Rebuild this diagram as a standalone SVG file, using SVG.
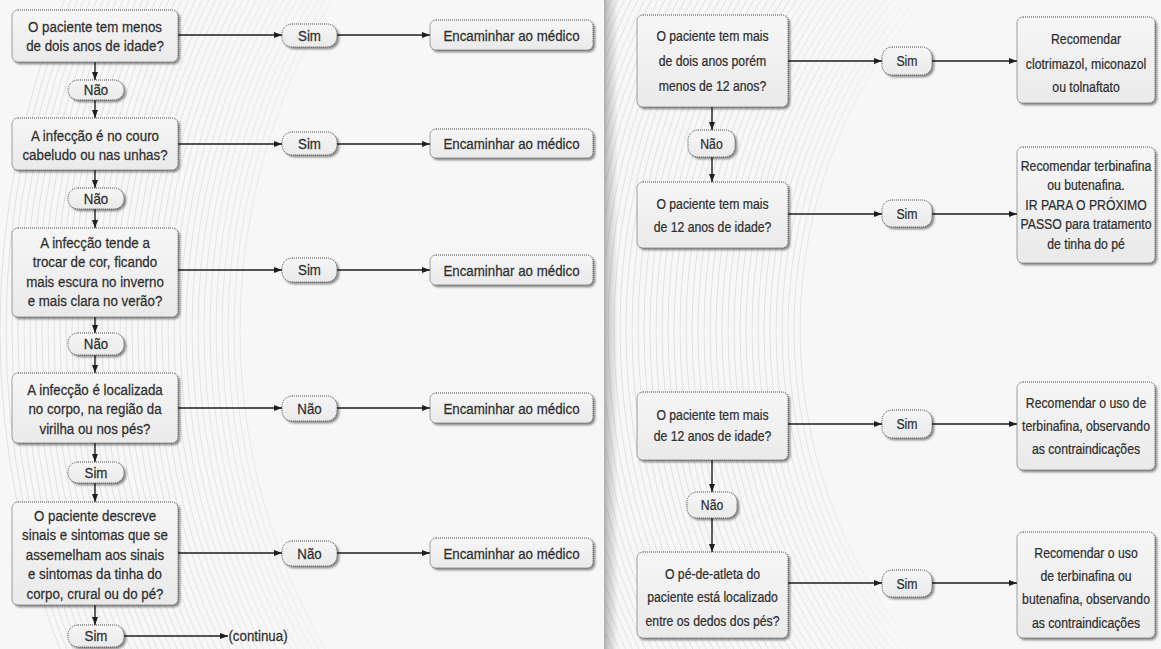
<svg xmlns="http://www.w3.org/2000/svg" width="1161" height="649" viewBox="0 0 1161 649">
  <defs>
    <style>
      .box { fill: url(#boxFill); stroke: #4a4a4a; stroke-width: 1; stroke-dasharray: 1 1; filter: url(#shadow); }
      .t { font-family: "Liberation Sans", "DejaVu Sans", sans-serif; fill: #2e2e2e; stroke: #2e2e2e; stroke-width: 0.25; text-anchor: middle; transform-box: fill-box; transform-origin: 50% 50%; }
      .l { font-size: 15.5px; transform: scaleX(0.86); }
      .r { font-size: 15.5px; transform: scaleX(0.79); }
      .conn { stroke: #1e1e1e; stroke-width: 1.4; fill: none; marker-end: url(#arrow); }
      .rings circle { fill: none; stroke: #e1e1e1; stroke-width: 1; }
    </style>
    <linearGradient id="boxFill" x1="0" y1="0" x2="0" y2="1">
      <stop offset="0" stop-color="#f6f6f6"/>
      <stop offset="1" stop-color="#eaeaea"/>
    </linearGradient>
    <filter id="shadow" x="-10%" y="-10%" width="130%" height="140%">
      <feGaussianBlur in="SourceAlpha" stdDeviation="1.3"/>
      <feOffset dx="2" dy="2" result="b"/>
      <feComponentTransfer><feFuncA type="linear" slope="0.45"/></feComponentTransfer>
      <feMerge><feMergeNode/><feMergeNode in="SourceGraphic"/></feMerge>
    </filter>
    <marker id="arrow" viewBox="0 0 8 6" refX="8" refY="3" markerWidth="8" markerHeight="6" markerUnits="userSpaceOnUse" orient="auto">
      <path d="M0,0 L8,3 L0,6 z" fill="#1e1e1e"/>
    </marker>
    <linearGradient id="fadeL" gradientUnits="userSpaceOnUse" x1="0" y1="0" x2="430" y2="0">
      <stop offset="0" stop-color="#fff"/>
      <stop offset="0.4" stop-color="#fff"/>
      <stop offset="1" stop-color="#000"/>
    </linearGradient>
    <linearGradient id="fadeR" gradientUnits="userSpaceOnUse" x1="606" y1="0" x2="950" y2="0">
      <stop offset="0" stop-color="#fff"/>
      <stop offset="0.5" stop-color="#fff"/>
      <stop offset="1" stop-color="#000"/>
    </linearGradient>
    <mask id="maskL"><rect x="0" y="0" width="604" height="649" fill="url(#fadeL)"/></mask>
    <mask id="maskR"><rect x="606" y="0" width="555" height="649" fill="url(#fadeR)"/></mask>
    <linearGradient id="edge" x1="0" y1="0" x2="1" y2="0">
      <stop offset="0" stop-color="#000" stop-opacity="0.22"/>
      <stop offset="1" stop-color="#000" stop-opacity="0"/>
    </linearGradient>
  </defs>

  <!-- background -->
  <rect x="0" y="0" width="1161" height="649" fill="#f7f7f7"/>
  <g class="rings" mask="url(#maskL)">
    <g transform="translate(880 330)">
      <circle r="640"/><circle r="646"/><circle r="652"/><circle r="658"/><circle r="664"/><circle r="670"/><circle r="676"/><circle r="682"/><circle r="688"/><circle r="694"/>
      <circle r="700"/><circle r="706"/><circle r="712"/><circle r="718"/><circle r="724"/><circle r="730"/><circle r="736"/><circle r="742"/><circle r="748"/><circle r="754"/>
      <circle r="760"/><circle r="766"/><circle r="772"/><circle r="778"/><circle r="784"/><circle r="790"/><circle r="796"/><circle r="802"/><circle r="808"/><circle r="814"/>
      <circle r="820"/><circle r="826"/><circle r="832"/><circle r="838"/><circle r="844"/><circle r="850"/><circle r="856"/><circle r="862"/><circle r="868"/><circle r="874"/><circle r="880"/>
    </g>
  </g>
  <g class="rings" mask="url(#maskR)">
    <g transform="translate(1300 330)">
      <circle r="500"/><circle r="506"/><circle r="512"/><circle r="518"/><circle r="524"/><circle r="530"/><circle r="536"/><circle r="542"/><circle r="548"/><circle r="554"/>
      <circle r="560"/><circle r="566"/><circle r="572"/><circle r="578"/><circle r="584"/><circle r="590"/><circle r="596"/><circle r="602"/><circle r="608"/><circle r="614"/>
      <circle r="620"/><circle r="626"/><circle r="632"/><circle r="638"/><circle r="644"/><circle r="650"/><circle r="656"/><circle r="662"/><circle r="668"/><circle r="674"/>
      <circle r="680"/><circle r="686"/><circle r="692"/><circle r="698"/><circle r="704"/><circle r="710"/><circle r="716"/><circle r="722"/><circle r="728"/><circle r="734"/>
      <circle r="740"/><circle r="746"/><circle r="752"/><circle r="758"/><circle r="764"/>
    </g>
  </g>

  <!-- panel divider -->
  <g id="divider">
    <rect x="606" y="0" width="12" height="649" fill="url(#edge)"/>
    <line x1="605" y1="0" x2="605" y2="649" stroke="#9c9c9c" stroke-width="1.5"/>
  </g>

  <!-- connectors -->
  <g id="connectors">
    <!-- left column, vertical -->
    <line class="conn" x1="95" y1="62" x2="95" y2="80"/>
    <line class="conn" x1="95" y1="100" x2="95" y2="118"/>
    <line class="conn" x1="95" y1="170" x2="95" y2="188"/>
    <line class="conn" x1="95" y1="209" x2="95" y2="228"/>
    <line class="conn" x1="95" y1="317" x2="95" y2="333"/>
    <line class="conn" x1="95" y1="355" x2="95" y2="373"/>
    <line class="conn" x1="95" y1="443" x2="95" y2="462"/>
    <line class="conn" x1="95" y1="483" x2="95" y2="502"/>
    <line class="conn" x1="95" y1="605" x2="95" y2="625"/>
    <!-- left column, horizontal -->
    <line class="conn" x1="178" y1="35" x2="282" y2="35"/>
    <line class="conn" x1="337" y1="35" x2="430" y2="35"/>
    <line class="conn" x1="178" y1="144" x2="282" y2="144"/>
    <line class="conn" x1="337" y1="144" x2="430" y2="144"/>
    <line class="conn" x1="178" y1="270" x2="282" y2="270"/>
    <line class="conn" x1="337" y1="270" x2="430" y2="270"/>
    <line class="conn" x1="178" y1="408" x2="282" y2="408"/>
    <line class="conn" x1="337" y1="408" x2="430" y2="408"/>
    <line class="conn" x1="178" y1="553" x2="282" y2="553"/>
    <line class="conn" x1="337" y1="553" x2="430" y2="553"/>
    <line class="conn" x1="124" y1="636" x2="228" y2="636"/>
    <!-- right column, vertical -->
    <line class="conn" x1="712" y1="107" x2="712" y2="130"/>
    <line class="conn" x1="712" y1="157" x2="712" y2="182"/>
    <line class="conn" x1="712" y1="460" x2="712" y2="492"/>
    <line class="conn" x1="712" y1="518" x2="712" y2="552"/>
    <!-- right column, horizontal -->
    <line class="conn" x1="788" y1="61" x2="882" y2="61"/>
    <line class="conn" x1="932" y1="61" x2="1017" y2="61"/>
    <line class="conn" x1="788" y1="214" x2="882" y2="214"/>
    <line class="conn" x1="932" y1="214" x2="1017" y2="214"/>
    <line class="conn" x1="788" y1="424" x2="882" y2="424"/>
    <line class="conn" x1="932" y1="424" x2="1017" y2="424"/>
    <line class="conn" x1="788" y1="583" x2="882" y2="583"/>
    <line class="conn" x1="932" y1="583" x2="1017" y2="583"/>
  </g>

  <!-- left column: questions -->
  <g id="q1">
    <rect class="box" x="12" y="10" width="166" height="52" rx="6"/>
    <text class="t l" x="95" y="32">O paciente tem menos</text>
    <text class="t l" x="95" y="51">de dois anos de idade?</text>
  </g>
  <g id="q2">
    <rect class="box" x="12" y="118" width="166" height="52" rx="6"/>
    <text class="t l" x="95" y="141">A infecção é no couro</text>
    <text class="t l" x="95" y="160">cabeludo ou nas unhas?</text>
  </g>
  <g id="q3">
    <rect class="box" x="12" y="228" width="166" height="89" rx="6"/>
    <text class="t l" x="95" y="248">A infecção tende a</text>
    <text class="t l" x="95" y="267.5">trocar de cor, ficando</text>
    <text class="t l" x="95" y="287">mais escura no inverno</text>
    <text class="t l" x="95" y="306.5">e mais clara no verão?</text>
  </g>
  <g id="q4">
    <rect class="box" x="12" y="373" width="166" height="70" rx="6"/>
    <text class="t l" x="95" y="395">A infecção é localizada</text>
    <text class="t l" x="95" y="414.5">no corpo, na região da</text>
    <text class="t l" x="95" y="434">virilha ou nos pés?</text>
  </g>
  <g id="q5">
    <rect class="box" x="12" y="502" width="166" height="103" rx="6"/>
    <text class="t l" x="95" y="521">O paciente descreve</text>
    <text class="t l" x="95" y="540.5">sinais e sintomas que se</text>
    <text class="t l" x="95" y="560">assemelham aos sinais</text>
    <text class="t l" x="95" y="579.5">e sintomas da tinha do</text>
    <text class="t l" x="95" y="599">corpo, crural ou do pé?</text>
  </g>

  <!-- left column: answers on the main path -->
  <g id="a1"><rect class="box" x="68" y="80" width="56" height="20" rx="10"/><text class="t l" x="96" y="95.5">Não</text></g>
  <g id="a2"><rect class="box" x="68" y="188" width="56" height="21" rx="10"/><text class="t l" x="96" y="204">Não</text></g>
  <g id="a3"><rect class="box" x="68" y="333" width="56" height="22" rx="10"/><text class="t l" x="96" y="349.5">Não</text></g>
  <g id="a4"><rect class="box" x="68" y="462" width="56" height="21" rx="10"/><text class="t l" x="96" y="478">Sim</text></g>
  <g id="a5"><rect class="box" x="68" y="625" width="56" height="22" rx="10"/><text class="t l" x="96" y="641.5">Sim</text></g>
  <g id="continua"><text class="t l" x="258" y="641.5">(continua)</text></g>

  <!-- left column: side answers -->
  <g id="s1"><rect class="box" x="282" y="24" width="55" height="23" rx="10"/><text class="t l" x="309.5" y="41">Sim</text></g>
  <g id="s2"><rect class="box" x="282" y="132" width="55" height="23" rx="10"/><text class="t l" x="309.5" y="149">Sim</text></g>
  <g id="s3"><rect class="box" x="282" y="258" width="55" height="24" rx="10"/><text class="t l" x="309.5" y="275.5">Sim</text></g>
  <g id="s4"><rect class="box" x="282" y="396" width="55" height="25" rx="10"/><text class="t l" x="309.5" y="414">Não</text></g>
  <g id="s5"><rect class="box" x="282" y="541" width="55" height="25" rx="10"/><text class="t l" x="309.5" y="559">Não</text></g>

  <!-- left column: referrals -->
  <g id="e1"><rect class="box" x="430" y="20" width="163" height="30" rx="6"/><text class="t l" x="511.5" y="41">Encaminhar ao médico</text></g>
  <g id="e2"><rect class="box" x="430" y="129" width="163" height="29" rx="6"/><text class="t l" x="511.5" y="149.5">Encaminhar ao médico</text></g>
  <g id="e3"><rect class="box" x="430" y="255" width="163" height="30" rx="6"/><text class="t l" x="511.5" y="276">Encaminhar ao médico</text></g>
  <g id="e4"><rect class="box" x="430" y="393" width="163" height="30" rx="6"/><text class="t l" x="511.5" y="414">Encaminhar ao médico</text></g>
  <g id="e5"><rect class="box" x="430" y="538" width="163" height="30" rx="6"/><text class="t l" x="511.5" y="559">Encaminhar ao médico</text></g>

  <!-- right column: questions -->
  <g id="rq1">
    <rect class="box" x="637" y="15" width="151" height="92" rx="6"/>
    <text class="t r" x="712.5" y="41">O paciente tem mais</text>
    <text class="t r" x="712.5" y="66">de dois anos porém</text>
    <text class="t r" x="712.5" y="91">menos de 12 anos?</text>
  </g>
  <g id="rq2">
    <rect class="box" x="637" y="182" width="151" height="66" rx="6"/>
    <text class="t r" x="712.5" y="209">O paciente tem mais</text>
    <text class="t r" x="712.5" y="232">de 12 anos de idade?</text>
  </g>
  <g id="rq3">
    <rect class="box" x="637" y="392" width="151" height="68" rx="6"/>
    <text class="t r" x="712.5" y="420">O paciente tem mais</text>
    <text class="t r" x="712.5" y="441">de 12 anos de idade?</text>
  </g>
  <g id="rq4">
    <rect class="box" x="637" y="552" width="151" height="86" rx="6"/>
    <text class="t r" x="712.5" y="579">O pé-de-atleta do</text>
    <text class="t r" x="712.5" y="602.5">paciente está localizado</text>
    <text class="t r" x="712.5" y="626">entre os dedos dos pés?</text>
  </g>

  <!-- right column: answers on the main path -->
  <g id="ra1"><rect class="box" x="688" y="130" width="47" height="27" rx="10"/><text class="t r" x="711.5" y="149">Não</text></g>
  <g id="ra2"><rect class="box" x="687" y="492" width="50" height="26" rx="10"/><text class="t r" x="712" y="510.5">Não</text></g>

  <!-- right column: side answers -->
  <g id="rs1"><rect class="box" x="882" y="47" width="50" height="28" rx="10"/><text class="t r" x="907" y="66.5">Sim</text></g>
  <g id="rs2"><rect class="box" x="882" y="200" width="50" height="27" rx="10"/><text class="t r" x="907" y="219">Sim</text></g>
  <g id="rs3"><rect class="box" x="882" y="410" width="50" height="28" rx="10"/><text class="t r" x="907" y="429.5">Sim</text></g>
  <g id="rs4"><rect class="box" x="882" y="570" width="50" height="27" rx="10"/><text class="t r" x="907" y="589">Sim</text></g>

  <!-- right column: recommendations -->
  <g id="rr1">
    <rect class="box" x="1017" y="17" width="138" height="86" rx="6"/>
    <text class="t r" x="1086" y="44">Recomendar</text>
    <text class="t r" x="1086" y="69">clotrimazol, miconazol</text>
    <text class="t r" x="1086" y="92">ou tolnaftato</text>
  </g>
  <g id="rr2">
    <rect class="box" x="1017" y="147" width="138" height="116" rx="6"/>
    <text class="t r" x="1086" y="171">Recomendar terbinafina</text>
    <text class="t r" x="1086" y="190.5">ou butenafina.</text>
    <text class="t r" x="1086" y="210">IR PARA O PRÓXIMO</text>
    <text class="t r" x="1086" y="229.5">PASSO para tratamento</text>
    <text class="t r" x="1086" y="249">de tinha do pé</text>
  </g>
  <g id="rr3">
    <rect class="box" x="1017" y="382" width="138" height="88" rx="6"/>
    <text class="t r" x="1086" y="408">Recomendar o uso de</text>
    <text class="t r" x="1086" y="431">terbinafina, observando</text>
    <text class="t r" x="1086" y="454">as contraindicações</text>
  </g>
  <g id="rr4">
    <rect class="box" x="1017" y="532" width="138" height="106" rx="6"/>
    <text class="t r" x="1086" y="558">Recomendar o uso</text>
    <text class="t r" x="1086" y="581">de terbinafina ou</text>
    <text class="t r" x="1086" y="604">butenafina, observando</text>
    <text class="t r" x="1086" y="628">as contraindicações</text>
  </g>
</svg>
